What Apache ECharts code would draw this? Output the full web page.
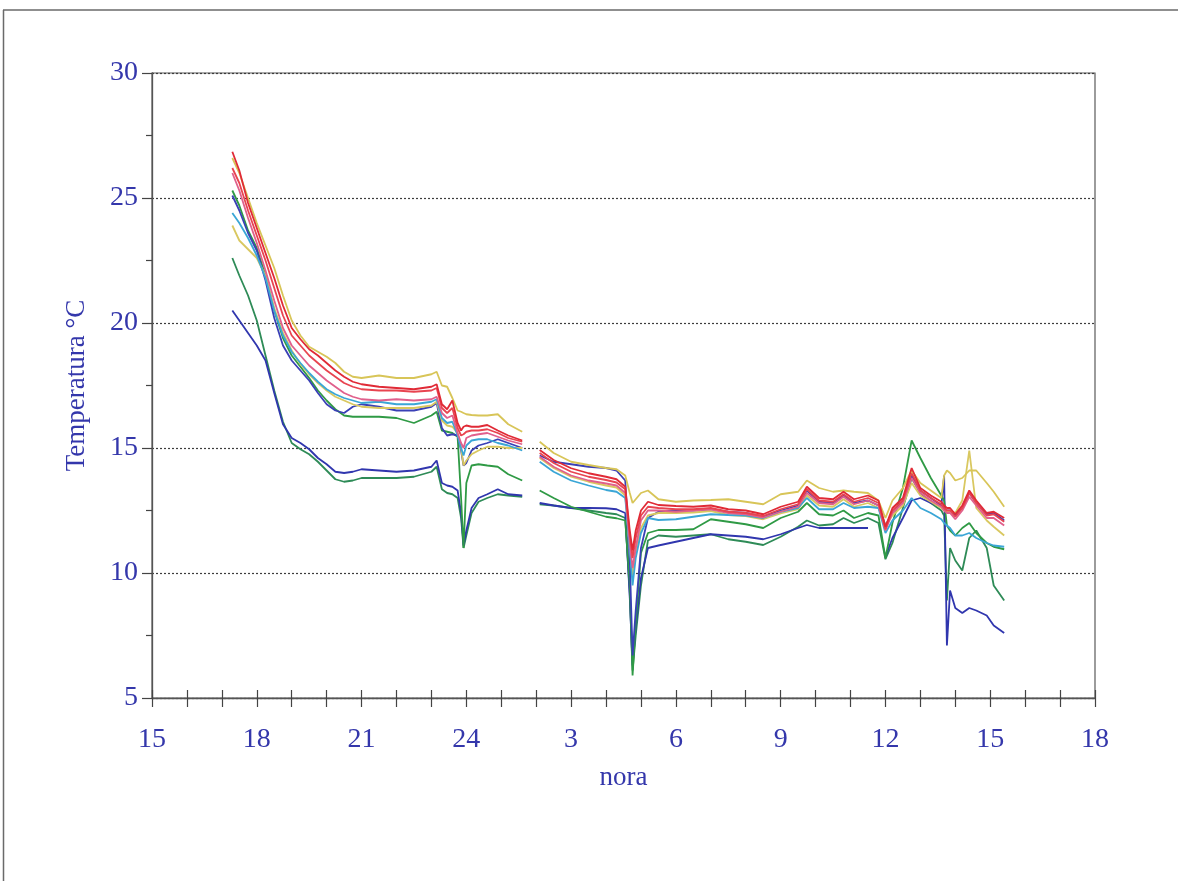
<!DOCTYPE html>
<html>
<head>
<meta charset="utf-8">
<title>Temperatura</title>
<script src="https://cdn.jsdelivr.net/npm/echarts@6/dist/echarts.min.js"></script>
<style>
  html, body { margin: 0; padding: 0; background: #ffffff; }
  #chart { width: 1178px; height: 881px; }
</style>
</head>
<body>
<div id="chart"></div>
<script>
// Sampling instants, in hours counted from midnight of the first day (24 = midnight, 39 = 15 h next day)
const hours = [
  17.3, 17.5, 17.75, 18.0, 18.25, 18.5, 18.75, 19.0, 19.25, 19.5, 19.75, 20.0, 20.25, 20.5, 20.75, 21.0, 21.5, 22.0, 22.5,
  23.0, 23.15, 23.3, 23.45, 23.6, 23.75, 23.85, 23.92, 24.0, 24.15, 24.35, 24.6, 24.9, 25.2, 25.6,
  25.85,
  26.1, 26.5, 27.0, 27.5, 28.0, 28.3, 28.55, 28.68, 28.76, 28.85,
  29.0, 29.2, 29.5, 30.0, 30.5, 31.0, 31.5, 32.0, 32.5, 33.0, 33.5, 33.75, 34.1, 34.5, 34.8, 35.1, 35.5, 35.8,
  36.0, 36.2, 36.5, 36.75, 37.0, 37.3, 37.6, 37.68, 37.76, 37.85, 38.0, 38.2, 38.4, 38.6, 38.9, 39.1, 39.4
];

// Temperatures (°C) of each sensor; null marks a gap in the record
const yellowA = [
  26.6, 26.0, 25.0, 24.0, 23.1, 22.2, 21.1, 20.1, 19.5, 19.05, 18.85, 18.65, 18.4, 18.05, 17.85, 17.8, 17.9, 17.8, 17.8,
  17.95, 18.05, 17.5, 17.45, 17.0, 16.5, 16.45, 16.4, 16.35, 16.32, 16.3, 16.3, 16.35, 15.95, 15.65,
  null,
  15.25, 14.8, 14.45, 14.32, 14.2, 14.15, 13.9, 13.2, 12.8, 12.95,
  13.2, 13.3, 12.95, 12.85, 12.9, 12.92, 12.95, 12.85, 12.75, 13.15, 13.25, 13.7, 13.4, 13.25, 13.3, 13.25, 13.2, 12.9,
  12.2, 12.9, 13.4, 14.1, 13.6, 13.3, 13.0, 13.9, 14.1, 14.0, 13.7, 13.8, 14.1, 14.1, 13.6, 13.25, 12.65
];
const redA = [
  26.85, 26.1, 24.8, 23.8, 22.8, 21.8, 20.7, 19.8, 19.35, 18.95, 18.7, 18.4, 18.1, 17.85, 17.65, 17.55, 17.45, 17.4, 17.35,
  17.45, 17.55, 16.75, 16.55, 16.9, 16.0, 15.7, 15.85, 15.9, 15.85, 15.85, 15.92, 15.7, 15.5, 15.3,
  null,
  14.92, 14.52, 14.19, 13.99, 13.85, 13.75, 13.45, 11.7, 10.9, 11.7,
  12.5, 12.85, 12.72, 12.68, 12.65, 12.7, 12.55, 12.5, 12.35, 12.65, 12.85, 13.45, 13.0, 12.95, 13.25, 12.95, 13.1, 12.9,
  11.85, 12.6, 13.0, 14.2, 13.4, 13.1, 12.85, 12.7, 12.6, 12.6, 12.35, 12.7, 13.3, 12.9, 12.4, 12.45, 12.2
];
const redB = [
  26.2, 25.6, 24.5, 23.5, 22.5, 21.4, 20.3, 19.5, 19.1, 18.7, 18.4, 18.1, 17.85, 17.6, 17.45, 17.35, 17.3, 17.3, 17.25,
  17.3, 17.4, 16.6, 16.4, 16.6, 15.8, 15.5, 15.55, 15.65, 15.7, 15.7, 15.75, 15.6, 15.4, 15.25,
  null,
  14.8, 14.4, 14.05, 13.85, 13.72, 13.62, 13.35, 11.5, 10.6, 11.4,
  12.3, 12.65, 12.6, 12.55, 12.55, 12.6, 12.45, 12.4, 12.28, 12.55, 12.75, 13.35, 12.9, 12.85, 13.15, 12.85, 13.0, 12.8,
  11.75, 12.5, 12.9, 14.0, 13.3, 13.0, 12.75, 12.6, 12.5, 12.5, 12.25, 12.6, 13.2, 12.8, 12.3, 12.35, 12.05
];
const pink = [
  26.0, 25.3, 24.2, 23.2, 22.1, 20.9, 19.8, 19.1, 18.7, 18.3, 18.0, 17.7, 17.45, 17.2, 17.05, 16.95, 16.9, 16.95, 16.9,
  16.95, 17.05, 16.4, 16.2, 16.3, 15.6, 15.2, 15.0, 15.4, 15.5, 15.55, 15.6, 15.45, 15.3, 15.15,
  null,
  14.65, 14.25, 13.9, 13.7, 13.58, 13.5, 13.2, 11.2, 10.2, 11.0,
  12.1, 12.5, 12.5, 12.45, 12.5, 12.55, 12.4, 12.35, 12.22, 12.45, 12.65, 13.2, 12.8, 12.75, 13.05, 12.75, 12.9, 12.7,
  11.7, 12.4, 12.8, 13.8, 13.2, 12.9, 12.65, 12.5, 12.4, 12.4, 12.15, 12.5, 13.05, 12.7, 12.2, 12.2, 11.9
];
const cyan = [
  24.4, 24.0, 23.4, 22.7, 21.8, 20.5, 19.5, 18.85, 18.4, 18.0, 17.65, 17.35, 17.15, 17.0, 16.9, 16.8, 16.85, 16.75, 16.75,
  16.85, 16.95, 16.2, 16.0, 16.05, 15.5, 15.0, 14.7, 15.1, 15.3, 15.35, 15.35, 15.2, 15.1, 14.9,
  null,
  14.45, 14.05, 13.7, 13.5, 13.32, 13.25, 13.0, 11.0, 9.5, 10.6,
  11.6, 12.2, 12.12, 12.15, 12.25, 12.35, 12.32, 12.3, 12.2, 12.45, 12.6, 13.0, 12.55, 12.55, 12.8, 12.6, 12.65, 12.6,
  11.6, 12.1, 12.5, 13.0, 12.6, 12.4, 12.15, 12.0, 11.9, 11.8, 11.5, 11.5, 11.6, 11.4, 11.2, 11.1, 11.05
];
const yellowB = [
  23.9, 23.3, 22.95, 22.6, 21.9, 20.6, 19.6, 18.9, 18.35, 17.95, 17.6, 17.3, 17.05, 16.9, 16.75, 16.65, 16.6, 16.6, 16.6,
  16.7, 16.85, 16.1, 15.9, 15.85, 15.6, 15.0, 14.3, 14.5, 14.75, 14.9, 15.05, 15.05, 15.0, 15.0,
  null,
  14.6, 14.2, 13.85, 13.65, 13.5, 13.42, 13.1, 11.0, 9.9, 10.8,
  11.8, 12.3, 12.4, 12.4, 12.42, 12.48, 12.32, 12.28, 12.15, 12.38, 12.55, 13.1, 12.7, 12.65, 12.95, 12.65, 12.8, 12.6,
  11.9, 12.3, 12.7, 13.6, 13.1, 12.85, 12.6, 12.5, 12.45, 12.5, 12.4, 12.9, 14.9, 12.6, 12.1, 11.85, 11.5
];
const blueA = [
  25.1, 24.5, 23.6, 22.9, 21.7, 20.2, 19.1, 18.5, 18.1, 17.7, 17.2, 16.75, 16.5, 16.4, 16.65, 16.75, 16.65, 16.5, 16.5,
  16.65, 16.8, 15.8, 15.5, 15.55, 15.5, 14.9, 14.3, 14.4, 14.9, 15.1, 15.2, 15.35, 15.2, 15.0,
  null,
  14.7, 14.45, 14.35, 14.25, 14.2, 14.1, 13.7, 10.5, 6.7, 8.5,
  11.0, 12.2, 12.45, 12.5, 12.5, 12.55, 12.45, 12.4, 12.25, 12.5, 12.7, 13.3, 12.85, 12.8, 13.1, 12.8, 12.9, 12.7,
  11.9, 12.4, 12.9, 13.9, 13.3, 13.0, 12.7, 12.6, 12.5, 12.5, 12.3, 12.6, 13.2, 12.8, 12.35, 12.4, 12.1
];
const greenA = [
  25.3, 24.7, 23.7, 23.0, 21.9, 20.5, 19.4, 18.7, 18.25, 17.8, 17.3, 16.9, 16.55, 16.3, 16.25, 16.25, 16.25, 16.2, 16.0,
  16.3, 16.45, 15.7, 15.65, 15.6, 15.45, 13.0, 11.0, 13.6, 14.3, 14.35, 14.3, 14.25, 13.95, 13.7,
  null,
  13.3, 13.0, 12.65, 12.45, 12.25, 12.19, 12.1, 9.5, 5.9, 8.0,
  10.8, 11.6, 11.72, 11.72, 11.75, 12.15, 12.05, 11.95, 11.8, 12.2, 12.45, 12.8, 12.35, 12.3, 12.5, 12.2, 12.4, 12.3,
  10.6, 12.0, 13.4, 15.3, 14.6, 13.8, 13.1, 12.9, 11.9, 11.7, 11.5, 11.8, 12.0, 11.6, 11.2, 11.05, 10.95
];
const blueB = [
  20.5, 20.1, 19.6, 19.1, 18.5, 17.2, 15.95, 15.4, 15.2, 14.95, 14.6, 14.35, 14.05, 14.0, 14.05, 14.15, 14.1, 14.05, 14.1,
  14.25, 14.5, 13.6, 13.5, 13.45, 13.3, 12.4, 11.1, 11.7, 12.6, 13.0, 13.15, 13.35, 13.15, 13.1,
  null,
  12.8, 12.7, 12.6, 12.6, 12.59, 12.55, 12.4, 9.0, 6.3, 7.8,
  9.8, 11.0, 11.1, 11.25, 11.4, 11.55, 11.5, 11.45, 11.35, 11.55, 11.8, 11.92, 11.8, 11.8, 11.8, 11.8, 11.8, null,
  10.65, 11.4, 12.2, 12.9, 13.0, 12.8, 12.7, 13.9, 7.1, 9.3, 8.6, 8.4, 8.6, 8.5, 8.3, 7.9, 7.6
];
const greenB = [
  22.6, 21.9, 21.1, 20.1, 18.7, 17.3, 16.05, 15.2, 14.95, 14.75, 14.45, 14.1, 13.75, 13.65, 13.7, 13.8, 13.8, 13.8, 13.85,
  14.05, 14.25, 13.35, 13.2, 13.15, 13.0, 12.2, 11.0, 11.5, 12.4, 12.85, 13.0, 13.15, 13.1, 13.05,
  null,
  12.75, 12.7, 12.6, 12.5, 12.4, 12.35, 12.2, 9.2, 6.1, 7.5,
  9.5, 11.3, 11.5, 11.45, 11.5, 11.55, 11.35, 11.25, 11.12, 11.45, 11.85, 12.1, 11.9, 11.95, 12.2, 12.0, 12.2, 12.0,
  10.55, 11.2, 12.6, 13.8, 13.2, 12.8, 12.5, 12.3, 8.9, 11.0, 10.5, 10.1, 11.4, 11.7, 11.0, 9.5, 8.9
];

// Hour tick labels (value on axis -> printed text)
const hourTicks = [15, 18, 21, 24, 27, 30, 33, 36, 39, 42];
const hourTickText = ['15', '18', '21', '24', '3', '6', '9', '12', '15', '18'];

const sensors = [
  { name: 'greenB',  values: greenB,  color: '#2e8b57' },
  { name: 'blueB',   values: blueB,   color: '#3036ae' },
  { name: 'greenA',  values: greenA,  color: '#2f9a45' },
  { name: 'blueA',   values: blueA,   color: '#3a40b6' },
  { name: 'yellowB', values: yellowB, color: '#d9c860' },
  { name: 'cyan',    values: cyan,    color: '#3aa6d6' },
  { name: 'pink',    values: pink,    color: '#e0608c' },
  { name: 'redB',    values: redB,    color: '#e84450' },
  { name: 'yellowA', values: yellowA, color: '#d8c558' },
  { name: 'redA',    values: redA,    color: '#e02a36' }
];

const blueText = '#3437ab';
const serif = '"Liberation Serif", "DejaVu Serif", serif';

const chart = echarts.init(document.getElementById('chart'), null, { renderer: 'canvas' });

chart.setOption({
  animation: false,
  backgroundColor: '#ffffff',
  grid: {
    left: 152, right: 83, top: 73, bottom: 183,
    show: true, borderColor: '#5a5a5a', borderWidth: 1.2, backgroundColor: 'transparent'
  },
  xAxis: [
    {
      type: 'value', min: 15, max: 42, interval: 1,
      name: 'nora', nameLocation: 'middle', nameGap: 66,
      nameTextStyle: { color: blueText, fontFamily: serif, fontSize: 27 },
      axisLine: { lineStyle: { color: '#555', width: 1.3 } },
      axisTick: { show: true, inside: false, length: 9, lineStyle: { color: '#444', width: 1.2 } },
      axisLabel: {
        margin: 28, color: blueText, fontFamily: serif, fontSize: 28,
        formatter: function (v) {
          const i = hourTicks.indexOf(Math.round(v));
          return i >= 0 && Math.abs(v - hourTicks[i]) < 1e-6 ? hourTickText[i] : '';
        }
      },
      splitLine: { show: false }
    },
    {
      type: 'value', min: 15, max: 42, interval: 1, position: 'bottom',
      axisLine: { show: false },
      axisTick: { show: true, inside: true, length: 8, lineStyle: { color: '#444', width: 1.2 } },
      axisLabel: { show: false },
      splitLine: { show: false }
    }
  ],
  yAxis: {
    type: 'value', min: 5, max: 30, interval: 5,
    name: 'Temperatura °C', nameLocation: 'middle', nameGap: 62,
    nameTextStyle: { color: blueText, fontFamily: serif, fontSize: 27 },
    axisLine: { show: true, lineStyle: { color: '#555', width: 1.3 } },
    axisTick: { show: true, length: 10, lineStyle: { color: '#444', width: 1.2 } },
    minorTick: { show: true, splitNumber: 2, length: 6, lineStyle: { color: '#444', width: 1.2 } },
    axisLabel: { margin: 14, color: blueText, fontFamily: serif, fontSize: 28 },
    splitLine: {
      show: true,
      lineStyle: { color: '#3c3c3c', width: 1.2, type: [2, 2] }
    }
  },
  graphic: [
    { type: 'line', shape: { x1: 3, y1: 10, x2: 1178, y2: 10 }, style: { stroke: '#6a6a6a', lineWidth: 1.5 } },
    { type: 'line', shape: { x1: 3.5, y1: 10, x2: 3.5, y2: 881 }, style: { stroke: '#6a6a6a', lineWidth: 1.5 } }
  ],
  series: sensors.map(function (s) {
    return {
      name: s.name,
      type: 'line',
      xAxisIndex: 0,
      showSymbol: false,
      connectNulls: false,
      lineStyle: { color: s.color, width: 1.8 },
      itemStyle: { color: s.color },
      data: hours.map(function (h, i) { return [h, s.values[i]]; })
    };
  })
});
</script>
</body>
</html>
